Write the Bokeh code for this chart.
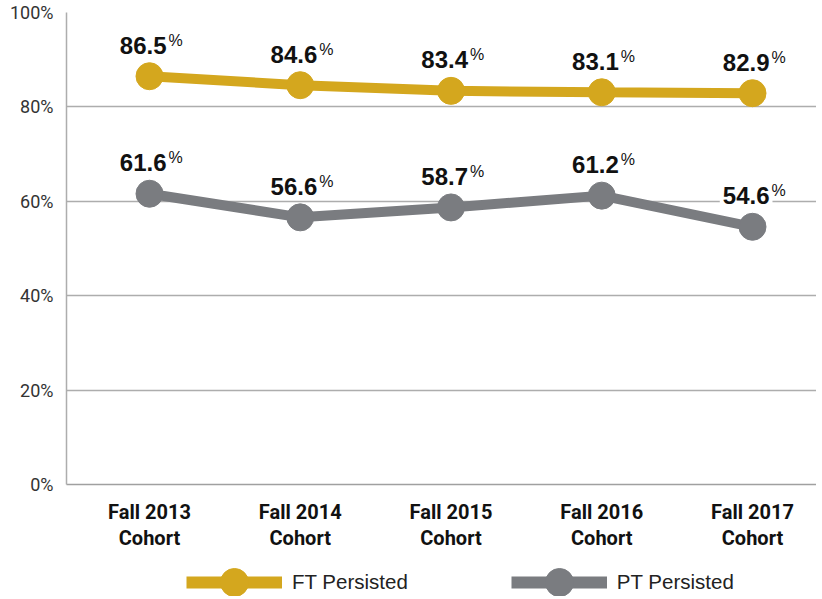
from bokeh.plotting import figure
from bokeh.layouts import column
from bokeh.models import ColumnDataSource, FixedTicker, Legend, LegendItem, Range1d
from bokeh.embed import file_html
from bokeh.resources import INLINE
from bokeh.core.properties import value

categories = ["Fall 2013\nCohort", "Fall 2014\nCohort", "Fall 2015\nCohort",
              "Fall 2016\nCohort", "Fall 2017\nCohort"]
ft_values = [86.5, 84.6, 83.4, 83.1, 82.9]
pt_values = [61.6, 56.6, 58.7, 61.2, 54.6]
y_ticks = [0, 20, 40, 60, 80, 100]
y_tick_labels = ["0%", "20%", "40%", "60%", "80%", "100%"]
series_names = ["FT Persisted", "PT Persisted"]

GOLD = "#D4A71E"
GRAY = "#7A7C80"

x = list(range(len(categories)))
src = ColumnDataSource(dict(
    x=x,
    ft=ft_values,
    pt=pt_values,
    ft_lab=[f"{v:.1f}" for v in ft_values],
    pt_lab=[f"{v:.1f}" for v in pt_values],
    pct=["%"] * len(x),
))

p = figure(frame_width=750, frame_height=472, output_backend="svg",
           toolbar_location=None,
           x_range=Range1d(-0.5506, 4.4246), y_range=Range1d(0, 100),
           min_border_left=66, min_border_right=0, min_border_top=12,
           min_border_bottom=70)
p.outline_line_color = None
p.background_fill_color = "white"
p.border_fill_color = "white"

p.xgrid.grid_line_color = None
p.ygrid.grid_line_color = "#ADADAD"
p.ygrid.grid_line_width = 1.5
p.ygrid.ticker = FixedTicker(ticks=y_ticks)

p.yaxis.ticker = FixedTicker(ticks=y_ticks)
p.yaxis.major_label_overrides = {t: l for t, l in zip(y_ticks, y_tick_labels)}
p.yaxis.major_tick_line_color = None
p.yaxis.major_tick_in = 0
p.yaxis.major_tick_out = 0
p.yaxis.minor_tick_line_color = None
p.yaxis.axis_line_color = "#ADADAD"
p.yaxis.axis_line_width = 1.5
p.yaxis.major_label_text_font = "Roboto"
p.yaxis.major_label_text_font_size = "18px"
p.yaxis.major_label_text_color = "#333333"
p.yaxis.major_label_standoff = 13

p.xaxis.ticker = FixedTicker(ticks=x)
p.xaxis.major_label_overrides = {i: c for i, c in zip(x, categories)}
p.xaxis.major_tick_line_color = None
p.xaxis.major_tick_in = 0
p.xaxis.major_tick_out = 0
p.xaxis.minor_tick_line_color = None
p.xaxis.axis_line_color = "#A0A0A0"
p.xaxis.axis_line_width = 1.5
p.xaxis.major_label_text_font = "Roboto"
p.xaxis.major_label_text_font_style = "bold"
p.xaxis.major_label_text_font_size = "20px"
p.xaxis.major_label_text_line_height = 1.1
p.xaxis.major_label_text_color = "#111111"
p.xaxis.major_label_standoff = 15

p.line("x", "ft", source=src, line_color=GOLD, line_width=10)
p.scatter("x", "ft", source=src, size=27, fill_color=GOLD, line_color=GOLD)
p.line("x", "pt", source=src, line_color=GRAY, line_width=10)
p.scatter("x", "pt", source=src, size=27, fill_color=GRAY, line_color=GRAY)

for col, lab in (("ft", "ft_lab"), ("pt", "pt_lab")):
    p.text("x", col, text=lab, source=src, text_align="right",
           text_baseline="alphabetic", x_offset=20, y_offset=-31,
           text_font=value("Liberation Sans"), text_font_style="bold",
           text_font_size="24px", text_color="#111111",
           background_fill_color="white", padding=3)
    p.text("x", col, text="pct", source=src, text_align="left",
           text_baseline="alphabetic", x_offset=19, y_offset=-36,
           text_font=value("Liberation Sans"), text_font_size="16px",
           text_color="#111111")

# legend strip (legend glyphs reuse the series styling; their data lie outside this strip's range)
pl = figure(width=816, height=42, output_backend="svg", toolbar_location=None,
            x_axis_location=None, y_axis_location=None,
            x_range=Range1d(0, 1), y_range=Range1d(0, 1), min_border=0)
pl.outline_line_color = None
pl.grid.visible = False
lg_ft_line = pl.line("x", "ft", source=src, line_color=GOLD, line_width=12)
lg_ft_dot = pl.scatter("x", "ft", source=src, size=28, fill_color=GOLD, line_color=GOLD)
lg_pt_line = pl.line("x", "pt", source=src, line_color=GRAY, line_width=12)
lg_pt_dot = pl.scatter("x", "pt", source=src, size=28, fill_color=GRAY, line_color=GRAY)

legend = Legend(items=[LegendItem(label=series_names[0], renderers=[lg_ft_line, lg_ft_dot]),
                       LegendItem(label=series_names[1], renderers=[lg_pt_line, lg_pt_dot])],
                orientation="horizontal", location=(120, -21),
                glyph_width=96, glyph_height=70, label_standoff=10, spacing=103,
                label_text_font="Liberation Sans", label_text_font_size="20.5px",
                label_text_color="#222222", border_line_color=None,
                background_fill_alpha=0, padding=0, margin=0)
pl.add_layout(legend)

layout = column(p, pl, spacing=0)
open("out.html", "w").write(file_html(layout, INLINE))
